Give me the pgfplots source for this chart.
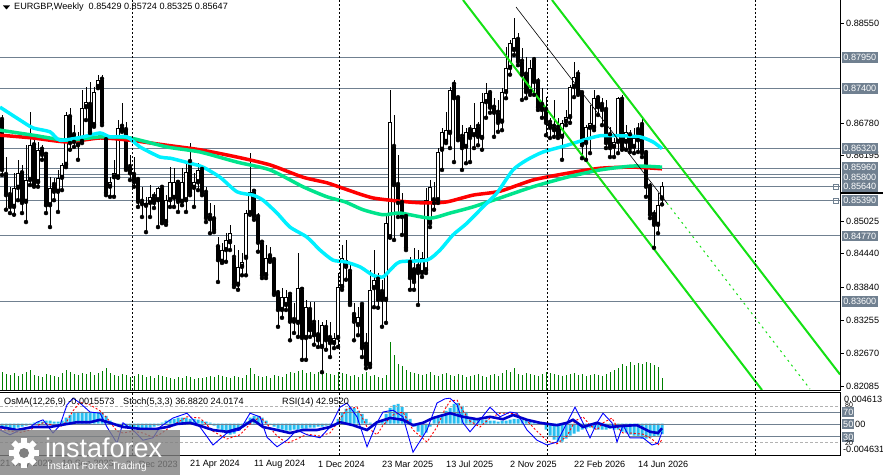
\documentclass[border=0pt]{standalone}
\usepackage{fontspec}
\setmainfont{Liberation Sans}
\usepackage{pgfplots}
\pgfplotsset{compat=1.18}
\usepackage{pgfplotstable}
\definecolor{lvl}{RGB}{112,128,144}
\definecolor{maC}{RGB}{0,240,255}
\definecolor{maG}{RGB}{0,228,140}
\definecolor{maR}{RGB}{255,0,0}
\definecolor{chan}{RGB}{20,225,20}
\definecolor{vol}{RGB}{0,128,0}
\definecolor{osma}{RGB}{40,190,240}
\definecolor{rsi}{RGB}{0,0,205}
\definecolor{stoch}{RGB}{0,0,255}
\newcommand\lab{\fontsize{9.1}{10}\selectfont}
\pgfplotstableread{
x o h l c v m
0 0.8683 0.8692 0.8585 0.8594 1800 -0.00059
1 0.8585 0.8617 0.8523 0.8549 1600 -0.00073
2 0.8549 0.8564 0.8517 0.8528 1500 -0.00088
3 0.8528 0.8588 0.8514 0.8562 1700 -0.00073
4 0.8562 0.8612 0.8540 0.8588 1400 -0.00059
5 0.8588 0.8603 0.8517 0.8535 1600 -0.00044
6 0.8537 0.8638 0.8501 0.8576 1800 -0.00029
7 0.8576 0.8697 0.8567 0.8638 2000 -0.00015
8 0.8638 0.8651 0.8564 0.8567 1500 0.00015
9 0.8572 0.8644 0.8564 0.8630 1400 0.00029
10 0.8630 0.8638 0.8612 0.8621 1300 0.00029
11 0.8621 0.8624 0.8517 0.8531 1600 0.00044
12 0.8531 0.8581 0.8492 0.8562 1500 0.00044
13 0.8567 0.8580 0.8540 0.8555 1400 0.00029
14 0.8555 0.8594 0.8519 0.8580 1300 0.00029
15 0.8580 0.8606 0.8558 0.8603 1700 0.00044
16 0.8603 0.8697 0.8599 0.8692 2000 0.00088
17 0.8688 0.8705 0.8630 0.8642 1800 0.00132
18 0.8656 0.8674 0.8635 0.8644 1600 0.00161
19 0.8638 0.8662 0.8612 0.8647 1500 0.00176
20 0.8644 0.8737 0.8642 0.8705 1700 0.00176
21 0.8706 0.8742 0.8683 0.8715 1600 0.00161
22 0.8710 0.8751 0.8660 0.8662 1800 0.00161
23 0.8674 0.8742 0.8671 0.8733 1500 0.00161
24 0.8742 0.8764 0.8740 0.8755 1700 0.00176
25 0.8755 0.8764 0.8674 0.8678 1900 0.00161
26 0.8647 0.8653 0.8549 0.8553 2200 0.00117
27 0.8564 0.8581 0.8546 0.8572 1700 0.00044
28 0.8581 0.8612 0.8546 0.8588 1500 0
29 0.8581 0.8683 0.8580 0.8669 1400 -0.00029
30 0.8671 0.8713 0.8662 0.8665 1600 -0.00044
31 0.8665 0.8680 0.8594 0.8597 1500 -0.00059
32 0.8599 0.8621 0.8576 0.8588 1300 -0.00073
33 0.8585 0.8617 0.8564 0.8572 1400 -0.00073
34 0.8576 0.8581 0.8528 0.8537 1600 -0.00088
35 0.8537 0.8564 0.8510 0.8533 1500 -0.00073
36 0.8530 0.8546 0.8483 0.8535 1300 -0.00073
37 0.8535 0.8567 0.8510 0.8546 1400 -0.00059
38 0.8546 0.8555 0.8526 0.8535 1200 -0.00044
39 0.8540 0.8564 0.8492 0.8562 1500 -0.00029
40 0.8562 0.8564 0.8499 0.8501 1400 0.00015
41 0.8501 0.8549 0.8496 0.8540 1300 0.00044
42 0.8540 0.8599 0.8528 0.8572 1200 0.00059
43 0.8544 0.8597 0.8528 0.8572 1100 0.00073
44 0.8571 0.8576 0.8519 0.8537 1300 0.00088
45 0.8537 0.8597 0.8531 0.8572 1200 0.00088
46 0.8540 0.8606 0.8519 0.8590 1400 0.00088
47 0.8608 0.8642 0.8549 0.8553 1300 0.00073
48 0.8562 0.8588 0.8528 0.8572 1100 0.00073
49 0.8572 0.8606 0.8558 0.8594 1200 0.00059
50 0.8594 0.8603 0.8549 0.8553 1200 0.00044
51 0.8553 0.8564 0.8501 0.8508 1300 0.00029
52 0.8512 0.8535 0.8481 0.8506 1400 0.00015
53 0.8506 0.8531 0.8483 0.8487 1300 -0.00029
54 0.8456 0.8474 0.8394 0.8433 1500 -0.00073
55 0.8430 0.8464 0.8428 0.8451 1400 -0.00117
56 0.8451 0.8481 0.8430 0.8469 1300 -0.00147
57 0.8465 0.8496 0.8451 0.8481 1200 -0.00161
58 0.8437 0.8460 0.8385 0.8389 1400 -0.00147
59 0.8389 0.8451 0.8380 0.8421 1300 -0.00103
60 0.8421 0.8446 0.8406 0.8430 1200 -0.00059
61 0.8437 0.8523 0.8406 0.8517 1500 0.00029
62 0.8517 0.8624 0.8514 0.8555 2200 0.00088
63 0.8555 0.8558 0.8505 0.8510 1600 0.00117
64 0.8510 0.8517 0.8448 0.8464 1400 0.00117
65 0.8464 0.8469 0.8401 0.8406 1300 0.00088
66 0.8406 0.8460 0.8401 0.8437 1400 0.00044
67 0.8440 0.8456 0.8430 0.8433 1200 -0.00015
68 0.8433 0.8437 0.8371 0.8374 1500 -0.00044
69 0.8374 0.8380 0.8314 0.8344 1400 -0.00073
70 0.8344 0.8383 0.8330 0.8367 1300 -0.00088
71 0.8353 0.8380 0.8344 0.8367 1600 -0.00103
72 0.8371 0.8376 0.8290 0.8323 1800 -0.00103
73 0.8326 0.8356 0.8303 0.8323 1700 -0.00088
74 0.8321 0.8446 0.8296 0.8383 1900 -0.00088
75 0.8380 0.8383 0.8255 0.8294 2000 -0.00073
76 0.8294 0.8362 0.8255 0.8349 1700 -0.00073
77 0.8344 0.8358 0.8296 0.8308 1800 -0.00059
78 0.8321 0.8358 0.8282 0.8299 1600 -0.00059
79 0.8299 0.8326 0.8278 0.8290 1800 -0.00044
80 0.8278 0.8323 0.8233 0.8317 2200 -0.00044
81 0.8312 0.8326 0.8273 0.8290 1700 -0.00029
82 0.8294 0.8323 0.8260 0.8285 1600 -0.00029
83 0.8285 0.8303 0.8276 0.8294 1500 -0.00015
84 0.8294 0.8410 0.8278 0.8385 1800 0.00073
85 0.8385 0.8460 0.8380 0.8437 1700 0.00161
86 0.8421 0.8469 0.8398 0.8433 1600 0.00220
87 0.8412 0.8430 0.8353 0.8356 1400 0.00249
88 0.8335 0.8356 0.8290 0.8323 1500 0.00235
89 0.8317 0.8349 0.8299 0.8332 1300 0.00191
90 0.8353 0.8356 0.8260 0.8276 1600 0.00147
91 0.8282 0.8303 0.8240 0.8246 1800 0.00073
92 0.8246 0.8415 0.8242 0.8380 1400 0.00015
93 0.8383 0.8451 0.8349 0.8398 1500 -0.00029
94 0.8398 0.8410 0.8348 0.8362 1300 -0.00015
95 0.8376 0.8398 0.8314 0.8362 1200 0.00044
96 0.8362 0.8517 0.8321 0.8499 1500 0.00147
97 0.8474 0.8737 0.8473 0.8680 4800 0.00235
98 0.8635 0.8692 0.8469 0.8567 3500 0.00279
99 0.8567 0.8621 0.8510 0.8535 2600 0.00293
100 0.8535 0.8553 0.8478 0.8510 2400 0.00249
101 0.8510 0.8517 0.8451 0.8455 2000 0.00161
102 0.8428 0.8439 0.8380 0.8401 1800 0.00073
103 0.8415 0.8455 0.8380 0.8394 1700 -0.00044
104 0.8421 0.8451 0.8353 0.8410 1600 -0.00117
105 0.8410 0.8448 0.8403 0.8437 1500 -0.00176
106 0.8415 0.8562 0.8410 0.8540 1600 -0.00132
107 0.8499 0.8576 0.8492 0.8564 1800 -0.00044
108 0.8540 0.8572 0.8523 0.8535 1500 0.00073
109 0.8540 0.8633 0.8535 0.8626 1400 0.00117
110 0.8630 0.8669 0.8594 0.8662 1600 0.00147
111 0.8644 0.8697 0.8642 0.8665 1700 0.00191
112 0.8660 0.8742 0.8633 0.8737 1500 0.00235
113 0.8746 0.8755 0.8608 0.8722 1400 0.00293
114 0.8722 0.8724 0.8647 0.8651 1600 0.00308
115 0.8653 0.8674 0.8594 0.8633 1500 0.00264
116 0.8635 0.8669 0.8606 0.8662 1300 0.00176
117 0.8665 0.8674 0.8608 0.8651 1400 0.00088
118 0.8656 0.8713 0.8633 0.8669 1500 0.00073
119 0.8671 0.8680 0.8638 0.8653 1600 0.00073
120 0.8651 0.8731 0.8630 0.8715 1400 0.00059
121 0.8715 0.8749 0.8687 0.8731 1300 0.00059
122 0.8731 0.8737 0.8696 0.8705 1500 0.00044
123 0.8705 0.8722 0.8653 0.8696 1600 0.00044
124 0.8696 0.8719 0.8662 0.8678 1400 0.00029
125 0.8680 0.8740 0.8665 0.8733 1700 0.00044
126 0.8733 0.8813 0.8722 0.8776 2000 0.00044
127 0.8776 0.8826 0.8764 0.8821 1800 0.00059
128 0.8808 0.8865 0.8799 0.8830 2200 0.00073
129 0.8826 0.8838 0.8781 0.8787 1600 0.00073
130 0.8787 0.8812 0.8719 0.8764 1500 0.00059
131 0.8764 0.8796 0.8722 0.8733 1700 0.00044
132 0.8733 0.8790 0.8728 0.8776 1600 0.00044
133 0.8790 0.8796 0.8728 0.8751 1500 0.00029
134 0.8751 0.8758 0.8701 0.8706 1400 0.00015
135 0.8710 0.8740 0.8687 0.8701 1600 0
136 0.8701 0.8724 0.8656 0.8678 1800 -0.00088
137 0.8678 0.8687 0.8651 0.8669 1700 -0.00176
138 0.8671 0.8719 0.8653 0.8665 1600 -0.00235
139 0.8669 0.8687 0.8651 0.8656 1500 -0.00264
140 0.8653 0.8683 0.8612 0.8678 1400 -0.00264
141 0.8680 0.8701 0.8674 0.8688 1500 -0.00220
142 0.8688 0.8746 0.8678 0.8742 1600 -0.00176
143 0.8742 0.8787 0.8724 0.8760 1700 -0.00147
144 0.8764 0.8772 0.8728 0.8731 1500 -0.00117
145 0.8731 0.8733 0.8615 0.8638 1600 -0.00088
146 0.8642 0.8674 0.8612 0.8671 1400 -0.00073
147 0.8669 0.8710 0.8624 0.8678 1500 -0.00059
148 0.8669 0.8737 0.8665 0.8722 1600 -0.00073
149 0.8722 0.8728 0.8692 0.8706 1500 -0.00088
150 0.8710 0.8722 0.8674 0.8701 1400 -0.00088
151 0.8701 0.8719 0.8633 0.8642 1600 -0.00088
152 0.8656 0.8671 0.8617 0.8633 1800 -0.00073
153 0.8635 0.8651 0.8617 0.8644 2000 -0.00088
154 0.8644 0.8724 0.8624 0.8722 2200 -0.00088
155 0.8719 0.8728 0.8630 0.8635 2600 -0.00117
156 0.8644 0.8674 0.8630 0.8662 2400 -0.00132
157 0.8656 0.8665 0.8626 0.8633 2800 -0.00161
158 0.8635 0.8669 0.8624 0.8651 2500 -0.00176
159 0.8665 0.8678 0.8626 0.8647 2700 -0.00191
160 0.8674 0.8687 0.8617 0.8624 2600 -0.00220
161 0.8624 0.8630 0.8546 0.8564 2800 -0.00220
162 0.8564 0.8571 0.8508 0.8514 2700 -0.00205
163 0.8514 0.8523 0.8455 0.8496 2500 -0.00191
164 0.8496 0.8553 0.8481 0.8531 2300 -0.00176
165 0.85429 0.85724 0.85325 0.85647 1200 -0.0015573
}\candles
\begin{document}
\begin{tikzpicture}[x=1pt,y=1pt]
\useasboundingbox (0,0) rectangle (883,475);
\fill[white] (0,0) rectangle (883,475);
% ---------- volumes ----------
\begin{scope}[yshift=85pt]
\begin{axis}[at={(0,0)}, anchor=south west, scale only axis, width=840pt, height=390pt,
  xmin=-0.5, xmax=209.5, ymin=0, ymax=39000, hide axis]
\addplot[ycomb, vol, line width=1pt, mark=none] table[x=x, y=v] {\candles};
\end{axis}
\end{scope}
% ---------- main price pane ----------
\begin{scope}[yshift=85pt]
\begin{axis}[at={(0,0)}, anchor=south west, scale only axis, width=840pt, height=390pt,
  xmin=-0.5, xmax=209.5, ymin=0.82012, ymax=0.88973, hide axis, clip=true]
\pgfplotsinvokeforeach{0.8795,0.8740,0.8632,0.8596,0.8586,0.8580,0.8564,0.8539,0.8477,0.8360}{
  \addplot[lvl, line width=0.9pt] coordinates {(-0.5,#1) (209.5,#1)};}
% wicks
\addplot[only marks, mark=none, error bars/.cd, y dir=plus, y explicit, error mark=none,
  error bar style={black, line width=1pt}]
  table[x=x, y=l, y error plus expr={\thisrow{h}-\thisrow{l}}] {\candles};
% bodies
\addplot[only marks, mark=none, error bars/.cd, y dir=plus, y explicit, error mark=none,
  error bar style={black, line width=3.2pt}]
  table[x=x, y expr={min(\thisrow{o},\thisrow{c})}, y error plus expr={max(abs(\thisrow{c}-\thisrow{o}),0.00018)}] {\candles};
\addplot[only marks, mark=none, error bars/.cd, y dir=plus, y explicit, error mark=none,
  error bar style={white, line width=1.3pt}]
  table[x=x, y expr={\thisrow{o}+0.00018}, y error plus expr={max(\thisrow{c}-\thisrow{o}-0.00036,0)}] {\candles};
% moving averages
\addplot[maR, line width=3.5pt, smooth, tension=0.4] coordinates {
(-0.5,0.8656) (7.75,0.8651) (16.25,0.8644) (24.5,0.8651) (32,0.8647) (41.25,0.8638) (49.5,0.8630)
(58.75,0.8617) (67,0.8603) (75.25,0.8581) (81.25,0.8571) (85.75,0.8560) (92.75,0.8544) (101.25,0.8537)
(106.25,0.8535) (111.25,0.8537) (117.75,0.8549) (124.5,0.8556) (132.75,0.8576) (141.25,0.8588)
(149.5,0.8597) (157.75,0.8599) (165,0.8596)};
\addplot[maG, line width=3.5pt, smooth, tension=0.4] coordinates {
(-0.5,0.8665) (7.75,0.8656) (16.25,0.8647) (24.5,0.8653) (32,0.8651) (41.25,0.8635) (49.5,0.8626)
(58.75,0.8608) (67,0.8594) (75.25,0.8564) (81.25,0.8546) (85.75,0.8537) (90.25,0.8523) (95.25,0.8514)
(99.5,0.8517) (107,0.8508) (112,0.8517) (117.75,0.8528) (124.5,0.8544) (132.75,0.8564) (141.25,0.8581)
(149.5,0.8594) (157.75,0.8601) (165,0.8599)};
\addplot[maC, line width=3.5pt, smooth, tension=0.4] coordinates {
(-0.5,0.8706) (4.5,0.8683) (7.75,0.8669) (12,0.8662) (14.5,0.8647) (20.25,0.8653) (24.5,0.8660)
(27,0.8653) (31.25,0.8653) (34.5,0.8635) (39.5,0.8617) (42,0.8615) (47,0.8606) (50.25,0.8599)
(54.5,0.8581) (58.75,0.8555) (62.75,0.8549) (65.25,0.8540) (68.75,0.8517) (72,0.8492) (76.25,0.8474)
(79.5,0.8451) (82.75,0.8433) (85.75,0.8430) (89.5,0.8421) (92.75,0.8406) (95.25,0.8403) (97,0.8415)
(99.5,0.8430) (106.25,0.8433) (109.5,0.8451) (112.75,0.8478) (116.25,0.8499) (120.25,0.8528)
(123.75,0.8553) (127.75,0.8594) (131.25,0.8612) (135.25,0.8626) (141.25,0.8638) (145.25,0.8647)
(149.5,0.8655) (154.5,0.8655) (159.5,0.8653) (162.75,0.8644) (165,0.8632)};
% channel
\addplot[chan, line width=2pt] coordinates {(137.5,0.88973) (209.5,0.82290)};
\addplot[chan, line width=2pt] coordinates {(115.25,0.88973) (190,0.82012)};
\addplot[black, line width=0.6pt] coordinates {(128.5,0.88848) (166.25,0.85349)};
\addplot[chan, line width=1pt, dash pattern=on 2pt off 4pt] coordinates {(166.25,0.85349) (202,0.82029)};
\end{axis}
\end{scope}
% ---------- OsMA histogram ----------
\begin{scope}[yshift=20pt]
\begin{axis}[at={(0,0)}, anchor=south west, scale only axis, width=840pt, height=62.5pt,
  xmin=-0.5, xmax=209.5, ymin=-0.004631, ymax=0.004613, hide axis]
\addplot[ybar, bar width=3pt, fill=osma, draw=none] table[x=x, y=m] {\candles};
\end{axis}
% ---------- oscillators ----------
\begin{axis}[at={(0,0)}, anchor=south west, scale only axis, width=840pt, height=62.5pt,
  xmin=-0.5, xmax=209.5, ymin=-1.67, ymax=102.5, hide axis]
\addplot[black!30, line width=0.8pt, dash pattern=on 3pt off 2pt] coordinates {(-0.5,80) (209.5,80)};
\addplot[black!30, line width=0.8pt, dash pattern=on 3pt off 2pt] coordinates {(-0.5,20) (209.5,20)};
\addplot[lvl, line width=0.9pt] coordinates {(-0.5,70) (209.5,70)};
\addplot[lvl, line width=0.9pt] coordinates {(-0.5,50) (209.5,50)};
\addplot[lvl, line width=0.9pt] coordinates {(-0.5,30) (209.5,30)};
% stochastic signal
\addplot[red, line width=0.9pt, dash pattern=on 2pt off 2pt] coordinates {
(-0.5,42) (2,38) (4.5,36) (7,40) (8.75,47) (10.25,52) (12.75,48) (14.5,45) (16.25,55) (17.75,72)
(19.5,86) (22,82) (24.5,72) (26.25,60) (28.75,38) (30.25,35) (32.75,38) (35.25,35) (37.75,28) (39.5,33)
(42.75,48) (46.25,62) (49.5,60) (52.75,38) (56.25,25) (59.5,32) (62,50) (64.5,62) (66.25,50) (68.75,30)
(71.25,18) (73.75,25) (76.25,33) (79.5,30) (82,35) (84.5,58) (86.25,75) (88.75,78) (91.25,45) (93.75,32)
(95.25,48) (97.75,65) (100.25,70) (102.75,40) (106.25,20) (108.75,45) (110.75,75) (112,88) (113.75,90)
(115.25,72) (117,55) (119.5,45) (122,60) (124.5,68) (127,68) (128.75,66) (131.25,55) (133.75,38)
(136.25,22) (138.75,17) (141.25,30) (143.25,55) (145.25,62) (147,48) (148.75,40) (150.25,52) (152.5,60)
(153.75,45) (155.25,35) (157,35) (160.25,33) (162.5,25) (164,15) (165,24.02)};
% stochastic main
\addplot[stoch, line width=0.9pt] coordinates {
(-0.5,40) (2,32) (4.5,40) (7,45) (8.75,53) (10.25,57) (12.75,35) (14.5,48) (16.25,82) (17.75,93)
(19.5,85) (22,70) (24.5,68) (26.25,45) (28.75,18) (30.25,52) (32.75,40) (35.25,23) (37.75,27) (39.5,45)
(42.75,60) (46.25,68) (49.5,45) (52.75,15) (56.25,35) (59.5,40) (62,68) (64.5,62) (66.25,28) (68.75,12)
(71.25,23) (73.75,40) (76.25,32) (79.5,27) (82,45) (84.5,78) (86.25,85) (88.75,62) (91.25,12) (93.75,52)
(95.25,70) (97.75,73) (100.25,62) (102.75,3) (106.25,40) (108.75,85) (110.75,92) (112,93) (113.75,82)
(115.25,52) (117,37) (119.5,57) (122,78) (124.5,62) (127,70) (128.75,68) (131.25,40) (133.75,23)
(136.25,15) (138.75,20) (141.25,52) (143.25,78) (145.25,52) (147,27) (148.75,52) (150.25,68) (152.5,52)
(153.75,20) (155.25,48) (157,27) (160.25,27) (162.5,15) (164,18) (165,36.88)};
% RSI
\addplot[rsi, line width=2.6pt] coordinates {
(-0.5,45) (3.75,40) (7.75,45) (12,45) (18.75,53) (22,53) (24.5,57) (27,52) (30.25,45) (34.5,42)
(38.75,42) (41.25,45) (43.75,50) (47,52) (49.5,47) (52.75,40) (56.25,37) (59.5,43) (62.75,57) (65.25,45)
(68.75,40) (72,35) (75.25,40) (78.75,40) (82,45) (84.5,53) (87.75,48) (91.25,40) (93.75,53) (97,60)
(100.25,57) (102.75,48) (105.25,52) (107.75,60) (112,68) (115.25,62) (118.75,58) (122,62) (125.25,58)
(127.75,65) (131.25,57) (134.5,52) (138.75,48) (141.25,52) (142.75,57) (145.25,45) (148.75,52) (152,45)
(155.25,47) (158.75,48) (162,37) (164,35) (165,42.95)};
\end{axis}
\end{scope}
% ---------- frames and separators ----------
\draw[black, line width=0.9pt] (0,85) -- (840,85) -- (840,475);
\draw[black, line width=0.9pt] (0,82.5) -- (840,82.5) -- (840,20) -- (0,20);
\foreach \sx in {132,339,547,755}{
  \draw[black, line width=0.8pt, dash pattern=on 2pt off 2pt] (\sx,475) -- (\sx,85);
  \draw[black, line width=0.8pt, dash pattern=on 2pt off 2pt] (\sx,82) -- (\sx,20);}
\draw[lvl, line width=0.7pt] (833,286) rectangle (838,291);
\draw[lvl, line width=0.7pt] (833,272) rectangle (838,277);
\draw[black, line width=1.3pt] (841,282) -- (883,282);
% ---------- price scale ----------
\foreach \py/\pl in {23.7/0.88550,122.9/0.86780,155.6/0.86195,221.2/0.85025,253.8/0.84440,287.4/0.83840,320.2/0.83255,352.9/0.82670,385.9/0.82085}{
  \draw[black, line width=0.8pt] (840,{475-\py}) -- (844,{475-\py});
  \node[anchor=west, font=\lab, inner sep=0pt] at (846,{475-\py}) {\pl};}
% ---------- level labels ----------
\tikzset{lv/.style={fill=lvl, text=white, font=\lab, anchor=west, inner xsep=1.2pt, inner ysep=0.6pt, minimum height=10.5pt}}
\node[lv] at (842,{475-57.3}) {0.87950};
\node[lv] at (842,{475-88.3}) {0.87400};
\node[lv] at (842,{475-148.5}) {0.86320};
\node[lv] at (842,{475-167.5}) {0.85960};
\node[lv] at (842,{475-177.3}) {0.85800};
\node[lv] at (842,{475-186.3}) {0.85640};
\node[lv] at (842,{475-200.7}) {0.85390};
\node[lv] at (842,{475-236.2}) {0.84770};
\node[lv] at (842,{475-301.5}) {0.83600};
% ---------- sub-pane labels ----------
\node[anchor=west, font=\lab, inner sep=0pt] at (844,{475-399}) {0.004613};
\node[anchor=west, font=\fontsize{7}{8}\selectfont, inner sep=0pt] at (845,{475-405.5}) {80};
\node[lv, inner xsep=1pt] at (842,{475-412}) {70};
\node[anchor=west, font=\lab, inner sep=0pt] at (855,{475-424}) {00};
\node[lv, inner xsep=1pt] at (842,{475-424}) {50};
\node[lv, inner xsep=1pt] at (842,{475-437}) {30};
\node[anchor=west, font=\fontsize{7}{8}\selectfont, inner sep=0pt] at (845,{475-443.5}) {20};
\node[anchor=west, font=\lab, inner sep=0pt] at (843,{475-449}) {-0.004631};
% ---------- titles ----------
\fill[black] (3,469.5) -- (10,469.5) -- (6.5,465.5) -- cycle;
\node[anchor=west, font=\lab, inner sep=0pt] at (14,468) {EURGBP,Weekly\ \ 0.85429 0.85724 0.85325 0.85647};
\node[anchor=west, font=\lab, inner sep=0pt] at (4,73) {OsMA(12,26,9) -0.0015573};
\node[anchor=west, font=\lab, inner sep=0pt] at (123,73) {Stoch(5,3,3) 36.8820 24.0174};
\node[anchor=west, font=\lab, inner sep=0pt] at (282,73) {RSI(14) 42.9520};
% ---------- time axis ----------
\foreach \tx/\tl in {0/21 May 2023,62/10 Sep 2023,126/31 Dec 2023,190/21 Apr 2024,254/11 Aug 2024,318/1 Dec 2024,382/23 Mar 2025,446/13 Jul 2025,510/2 Nov 2025,574/22 Feb 2026,638/14 Jun 2026}{
  \node[anchor=west, font=\lab, inner sep=0pt] at (\tx,11) {\tl};}
% ---------- logo ----------
\fill[black!50, opacity=0.8] (0,0) rectangle (180,45);
\foreach \a in {0,45,...,315}{
  \fill[white, rotate around={\a:(24,22)}] (21,22) rectangle (27,37);}
\fill[white] (24,22) circle (11);
\fill[black!50] (24,22) circle (5);
\node[anchor=west, font=\fontsize{27}{30}\selectfont, text=white, inner sep=0pt] at (45,27) {instaforex};
\node[anchor=west, font=\fontsize{10.5}{12}\selectfont, text=white, inner sep=0pt] at (47,8) {Instant Forex Trading};
\end{tikzpicture}
\end{document}
